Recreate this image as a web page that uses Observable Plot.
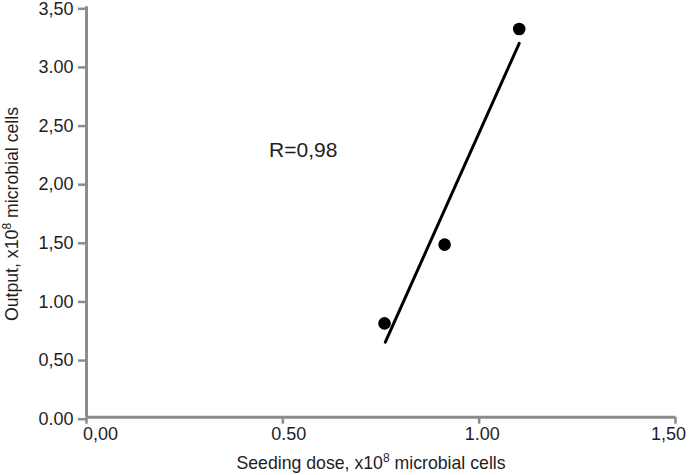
<!DOCTYPE html>
<html><head><meta charset="utf-8">
<script src="https://cdn.jsdelivr.net/npm/d3@7"></script>
<script src="https://cdn.jsdelivr.net/npm/@observablehq/plot@0.6"></script>
<style>body{margin:0;background:#fff} svg{overflow:visible}</style>
</head><body><div id="chart"></div>
<script>
// Data
const seedingDose = [0.759, 0.912, 1.102];
const output = [0.80, 1.472, 3.311];
const fitX = [0.761, 1.102];
const fitY = [0.640, 3.189];
const xTicks = [0, 0.5, 1.0, 1.5];
const xTickLabels = ["0,00", "0.50", "1.00", "1,50"];
const yTicks = [0, 0.5, 1, 1.5, 2, 2.5, 3, 3.5];
const yTickLabels = ["0.00", "0,50", "1.00", "1,50", "2,00", "2,50", "3.00", "3,50"];
const annotationText = ["R=0,98"];
const annotationX = [0.465];
const annotationY = [2.22];

const points = seedingDose.map((x, i) => ({x, y: output[i]}));
const fit = fitX.map((x, i) => ({x, y: fitY[i]}));
const notes = annotationText.map((t, i) => ({t, x: annotationX[i], y: annotationY[i]}));
const xLabelData = xTicks.map((v, i) => ({v, label: xTickLabels[i]}));
// layout: small horizontal shifts of the x tick labels as in the reference
const xLabelShift = [14, 6, 3, -7];

const axisGray = "#8c8c8c";
const textCol = "#1e1e1e";

const W = 690, H = 475;
const plot = Plot.plot({
  width: W, height: H,
  marginLeft: 86, marginRight: 15, marginTop: 6.3, marginBottom: 58.3,
  style: {fontFamily: "'Liberation Sans', Arial, sans-serif", fontSize: "18px", color: textCol, background: "#fff"},
  x: {domain: [0, 1.5]},
  y: {domain: [0, 3.5]},
  marks: [
    Plot.axisY({ticks: yTicks, tickFormat: d => yTickLabels[yTicks.indexOf(d)], tickSize: 8, tickPadding: 5, dy: 2,
      stroke: axisGray, strokeWidth: 2.5, fill: textCol, fontSize: 18, label: null}),
    Plot.axisX({ticks: xTicks, tickSize: 7, text: null, stroke: axisGray, strokeWidth: 2.5, label: null}),
    ...xLabelData.map((d, i) => Plot.text([d], {x: "v", text: "label", frameAnchor: "bottom", lineAnchor: "top",
      dy: 10, dx: xLabelShift[i], fontSize: 18, fill: textCol})),
    Plot.ruleX([0], {stroke: axisGray, strokeWidth: 3}),
    Plot.ruleY([0], {stroke: axisGray, strokeWidth: 3}),
    Plot.line(fit, {x: "x", y: "y", stroke: "#000", strokeWidth: 3}),
    Plot.dot(points, {x: "x", y: "y", r: 6.3, fill: "#000", stroke: "none"}),
    Plot.text(notes, {x: "x", y: "y", text: "t", textAnchor: "start", lineAnchor: "bottom", fontSize: 21, fill: textCol})
  ]
});
document.getElementById("chart").appendChild(plot);

// Axis titles with superscripts
const svg = d3.select(plot);
function label(x, y, rot, parts) {
  const t = svg.append("text")
    .attr("transform", `translate(${x},${y}) rotate(${rot})`)
    .attr("text-anchor", "middle")
    .attr("fill", textCol)
    .attr("font-size", 17.7);
  t.append("tspan").text(parts[0]);
  t.append("tspan").attr("dy", -7).attr("font-size", 12).text(parts[1]);
  t.append("tspan").attr("dy", 7).text(parts[2]);
}
label(371, 469, 0, ["Seeding dose, x10", "8", " microbial cells"]);
label(17.5, 214, -90, ["Output, x10", "8", " microbial cells"]);
</script>
</body></html>
